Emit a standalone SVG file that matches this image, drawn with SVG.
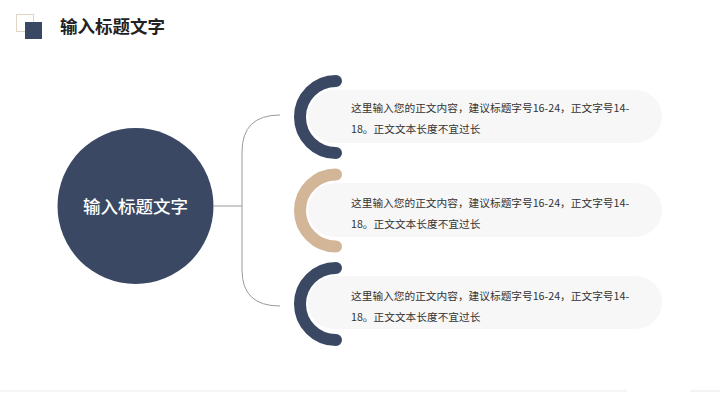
<svg xmlns="http://www.w3.org/2000/svg" width="720" height="405" viewBox="0 0 720 405">
<style>
.cjk{font-family:"Noto Sans CJK SC","Noto Sans",sans-serif}
.body{font-size:10.7px;fill:#333333}
.pill{fill:#f7f7f7}
.arc{fill:none;stroke-width:12;stroke-linecap:round}
.navy{stroke:#3a4863}
.tan{stroke:#d3b597}
.conn{fill:none;stroke:#9a9a9a;stroke-width:1}
</style>
<rect width="720" height="405" fill="#ffffff"/>
<g id="header">
<rect x="16.5" y="14.5" width="17" height="17" fill="none" stroke="#e3d3c4" stroke-width="1"/>
<rect x="25" y="22" width="17" height="17" fill="#3a4863"/>
<text x="60" y="33" class="cjk" font-size="17.5" font-weight="bold" fill="#222222">输入标题文字</text>
</g>
<g id="connectors">
<line x1="214" y1="206" x2="242" y2="206" class="conn"/>
<path d="M280,115 Q242,115 242,152 L242,270 Q242,306 280,306" class="conn"/>
</g>
<g id="center">
<circle cx="135.5" cy="206" r="78" fill="#3a4863"/>
<text x="135.5" y="213" text-anchor="middle" class="cjk" font-size="17.5" font-weight="500" fill="#ffffff">输入标题文字</text>
</g>
<g id="item1">
<rect x="308" y="90" width="354" height="53" rx="26.5" class="pill"/>
<path d="M336,81 A36,36 0 0 0 336,153" class="arc navy"/>
<text x="351" y="112" class="cjk body">这里输入您的正文内容，建议标题字号16-24，正文字号14-</text>
<text x="351" y="133" class="cjk body">18。正文文本长度不宜过长</text>
</g>
<g id="item2">
<rect x="308" y="183" width="354" height="54" rx="27" class="pill"/>
<path d="M336,174.5 A36,36 0 0 0 336,246.5" class="arc tan"/>
<text x="351" y="207" class="cjk body">这里输入您的正文内容，建议标题字号16-24，正文字号14-</text>
<text x="351" y="228" class="cjk body">18。正文文本长度不宜过长</text>
</g>
<g id="item3">
<rect x="308" y="276" width="354" height="53" rx="26.5" class="pill"/>
<path d="M336,268 A36,36 0 0 0 336,340" class="arc navy"/>
<text x="351" y="300" class="cjk body">这里输入您的正文内容，建议标题字号16-24，正文字号14-</text>
<text x="351" y="321" class="cjk body">18。正文文本长度不宜过长</text>
</g>
<g id="footer">
<line x1="0" y1="391" x2="627" y2="391" stroke="#ececec" stroke-width="1.2"/>
<line x1="690" y1="391" x2="720" y2="391" stroke="#ececec" stroke-width="1.2"/>
</g>
</svg>
